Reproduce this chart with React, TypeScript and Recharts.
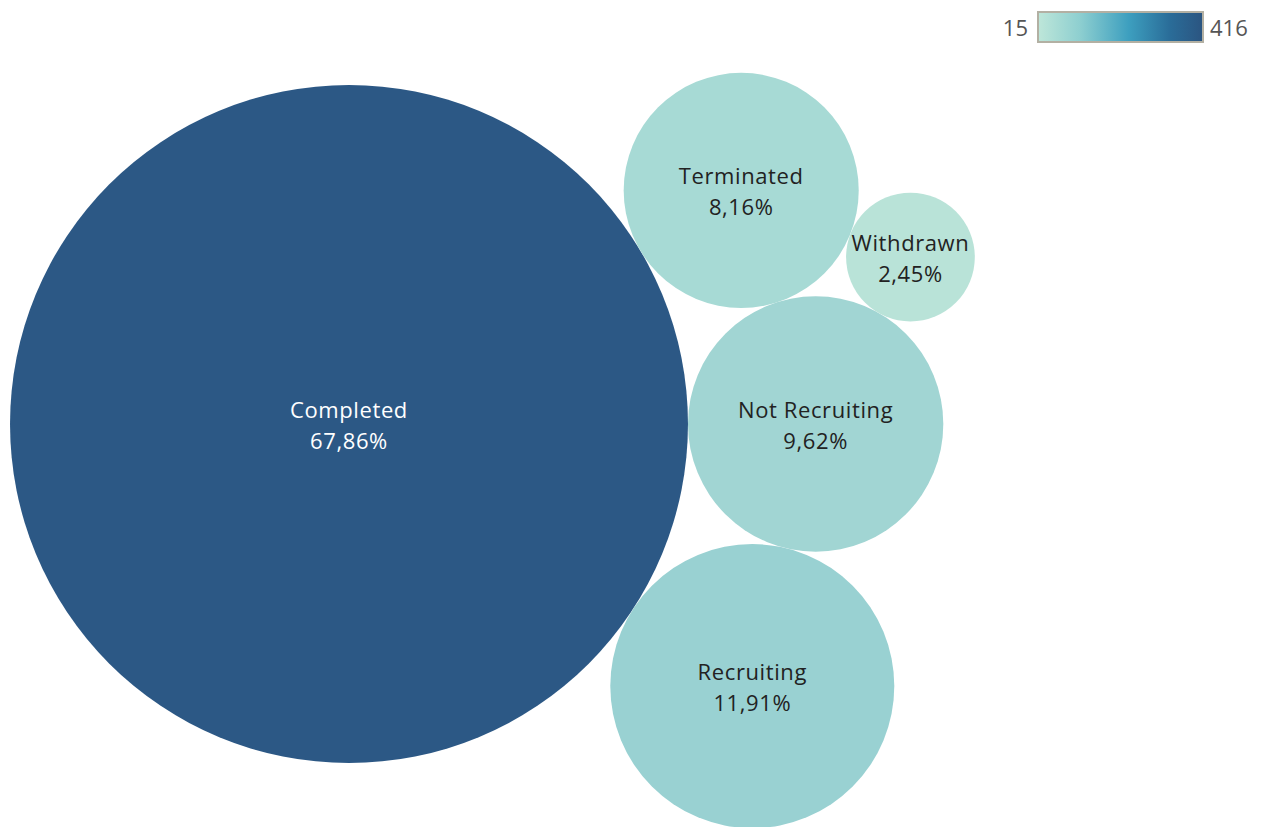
import { useEffect } from 'react';
import { ScatterChart, Scatter, XAxis, YAxis, ZAxis } from 'recharts';

// ──────────────────────────────────────────────────────────
// Data
// ──────────────────────────────────────────────────────────

const STATUSES = ['Completed', 'Not Recruiting', 'Terminated', 'Withdrawn', 'Recruiting'];
const COUNTS = [416, 59, 50, 15, 73];
const FILLS = ['#2c5885', '#a1d5d3', '#a7dad5', '#b9e3d8', '#99d1d2'];
const TEXT_COLORS = ['#ffffff', '#222222', '#222222', '#222222', '#222222'];

const LEGEND_MIN = 15;
const LEGEND_MAX = 416;

// ──────────────────────────────────────────────────────────
// Layout
// ──────────────────────────────────────────────────────────

const WIDTH = 1262;
const HEIGHT = 827;
const PX_PER_SQRT = 16.62; // radius in px = PX_PER_SQRT * sqrt(count)
const ORIGIN_X = 349;
const ORIGIN_Y = 424;

const total = COUNTS.reduce((a, b) => a + b, 0);
const radius = (v: number) => PX_PER_SQRT * Math.sqrt(v);

type Circle = { x: number; y: number; r: number };

// place a circle of radius r tangent to circles a and b (side = +1 / -1)
function tangent(a: Circle, b: Circle, r: number, side: number): Circle {
  const dx = b.x - a.x;
  const dy = b.y - a.y;
  const d = Math.sqrt(dx * dx + dy * dy);
  const la = a.r + r;
  const lb = b.r + r;
  const cos = (la * la + d * d - lb * lb) / (2 * la * d);
  const t = side * Math.acos(Math.min(1, Math.max(-1, cos)));
  const ux = dx / d;
  const uy = dy / d;
  const rx = ux * Math.cos(t) - uy * Math.sin(t);
  const ry = ux * Math.sin(t) + uy * Math.cos(t);
  return { x: a.x + la * rx, y: a.y + la * ry, r };
}

function packLayout(): Circle[] {
  const r = COUNTS.map(radius);
  const c0: Circle = { x: ORIGIN_X, y: ORIGIN_Y, r: r[0] };
  const c1: Circle = { x: ORIGIN_X + r[0] + r[1], y: ORIGIN_Y, r: r[1] };
  const c2 = tangent(c0, c1, r[2], -1);
  const c3 = tangent(c2, c1, r[3], -1);
  const c4 = tangent(c0, c1, r[4], 1);
  return [c0, c1, c2, c3, c4];
}

const layout = packLayout();

const chartData = STATUSES.map((name, i) => ({
  name,
  count: COUNTS[i],
  x: layout[i].x,
  y: layout[i].y,
  pct: ((COUNTS[i] / total) * 100).toFixed(2).replace('.', ','),
  fill: FILLS[i],
  textColor: TEXT_COLORS[i],
}));

const FONT = '"Open Sans", "Noto Sans", sans-serif';

function Bubble(props: any) {
  const { cx, cy, width, payload } = props;
  const r = width / 2;
  const textProps = {
    textAnchor: 'middle' as const,
    dominantBaseline: 'central' as const,
    fontSize: 22,
    fontFamily: FONT,
    letterSpacing: 0.6,
    fill: payload.textColor,
  };
  return (
    <g>
      <circle cx={cx} cy={cy} r={r} fill={payload.fill} />
      <text x={cx} y={cy - 15} {...textProps}>
        {payload.name}
      </text>
      <text x={cx} y={cy + 16} {...textProps}>
        {payload.pct}%
      </text>
    </g>
  );
}

function ColorLegend() {
  return (
    <div
      style={{
        position: 'absolute',
        top: 11,
        left: 996,
        display: 'flex',
        alignItems: 'center',
        fontFamily: FONT,
        fontSize: 22,
        color: '#555',
      }}
    >
      <span style={{ width: 32, textAlign: 'right', marginRight: 9 }}>{LEGEND_MIN}</span>
      <div
        style={{
          width: 163,
          height: 28,
          border: '2px solid #b3b0a3',
          background: 'linear-gradient(to right, #bde6d9 0%, #8ecfd0 25%, #3d9fbf 55%, #2a6d99 80%, #2b5581 100%)',
        }}
      />
      <span style={{ marginLeft: 6 }}>{LEGEND_MAX}</span>
    </div>
  );
}

export default function App() {
  useEffect(() => {
    document.body.style.margin = '0';
  }, []);

  return (
    <div style={{ position: 'relative', width: WIDTH, height: HEIGHT, background: '#fff', overflow: 'hidden' }}>
      <ScatterChart width={WIDTH} height={HEIGHT} margin={{ top: 0, right: 0, bottom: 0, left: 0 }}>
        <XAxis type="number" dataKey="x" domain={[0, WIDTH]} hide />
        <YAxis type="number" dataKey="y" domain={[0, HEIGHT]} reversed hide />
        <ZAxis
          type="number"
          dataKey="count"
          domain={[0, LEGEND_MAX]}
          range={[0, Math.PI * radius(LEGEND_MAX) ** 2]}
        />
        <Scatter data={chartData} shape={<Bubble />} isAnimationActive={false} />
      </ScatterChart>
      <ColorLegend />
    </div>
  );
}
